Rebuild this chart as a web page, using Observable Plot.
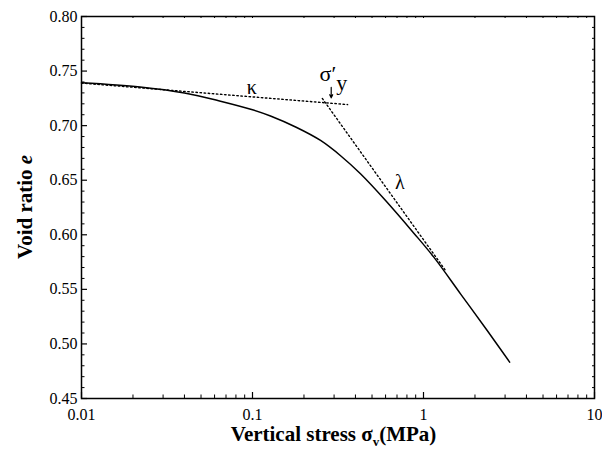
<!DOCTYPE html>
<html><head><meta charset="utf-8">
<script src="https://cdn.jsdelivr.net/npm/d3@7"></script>
<script src="https://cdn.jsdelivr.net/npm/@observablehq/plot@0.6"></script>
<style>
body{margin:0;background:#fff}
svg text{font-family:"Liberation Serif", serif !important;}
</style>
</head><body><div id="chart"></div>
<script>
// ---- data ----
const curveSigma = [0.01, 0.022, 0.04, 0.065, 0.1, 0.1274, 0.18, 0.25, 0.33, 0.428, 0.6, 0.878, 1.149, 1.646, 2.358, 3.19];
const curveE     = [0.7393, 0.7355, 0.7300, 0.7224, 0.7145, 0.7088, 0.6985, 0.6864, 0.6720, 0.6559, 0.6314, 0.6015, 0.5795, 0.5459, 0.5123, 0.4833];
const kappaSigma = [0.01, 0.36];
const kappaE     = [0.739, 0.7193];
const lambdaSigma = [0.256, 1.345];
const lambdaE     = [0.7249, 0.5673];
const yieldSigma = [0.2886];
const yieldArrowE = [0.735, 0.7255];
const xTickValues = [0.01, 0.1, 1, 10];
const xTickLabels = ["0.01", "0.1", "1", "10"];
const yTickValues = [0.45, 0.50, 0.55, 0.60, 0.65, 0.70, 0.75, 0.80];
const annotations = [
  {s: 0.0992, e: 0.7352, t: "κ", style: "italic", size: 20},
  {s: 0.726,  e: 0.6477, t: "λ", style: "italic", size: 20},
  {s: 0.276,  e: 0.7475, t: "σ′", style: "italic", size: 22},
  {s: 0.333,  e: 0.7395, t: "y", style: "normal", size: 22}
];

// ---- layout ----
const W = 602, H = 454, mL = 81, mR = 8, mT = 16, mB = 56;
const pw = W - mL - mR, ph = H - mT - mB;
const font = "Liberation Serif";

const xMinor = [];
[0.01, 0.1, 1].forEach(d => { for (let k = 2; k <= 9; k++) xMinor.push(d * k); });
const yMinor = d3.range(45, 81, 1).filter(v => v % 5 !== 0).map(v => v / 100);

const curve = curveSigma.map((s, i) => ({s, e: curveE[i]}));
const kappa = kappaSigma.map((s, i) => ({s, e: kappaE[i]}));
const lambda = lambdaSigma.map((s, i) => ({s, e: lambdaE[i]}));
const arrow = [{x: yieldSigma[0], y1: yieldArrowE[0], y2: yieldArrowE[1]}];

const chart = Plot.plot({
  width: W, height: H,
  marginLeft: mL, marginRight: mR, marginTop: mT, marginBottom: mB,
  x: {type: "log", domain: [0.01, 10], axis: null},
  y: {domain: [0.45, 0.80], axis: null},
  style: {fontFamily: font, background: "white", color: "black"},
  marks: [
    Plot.axisX(xTickValues, {anchor: "bottom", tickSize: 0, tickPadding: 10, fontSize: 16, fontFamily: font,
      tickFormat: d => xTickLabels[xTickValues.indexOf(d)], label: null}),
    Plot.axisY(yTickValues, {anchor: "left", tickSize: 0, tickPadding: 4, fontSize: 16, fontFamily: font,
      tickFormat: d3.format(".2f"), label: null}),
    // inward ticks, bottom and left
    Plot.tickX(xTickValues, {x: d => d, insetTop: ph - 6, stroke: "black", strokeWidth: 1.2}),
    Plot.tickX(xMinor, {x: d => d, insetTop: ph - 3.5, stroke: "black", strokeWidth: 1}),
    Plot.tickY(yTickValues, {y: d => d, insetRight: pw - 6, stroke: "black", strokeWidth: 1.2}),
    Plot.tickY(yMinor, {y: d => d, insetRight: pw - 3.5, stroke: "black", strokeWidth: 1}),
    // tiny ticks, top and right
    Plot.tickX(xTickValues.concat(xMinor), {x: d => d, insetBottom: ph - 2, stroke: "black", strokeWidth: 1}),
    Plot.tickY(yTickValues.concat(yMinor), {y: d => d, insetLeft: pw - 2, stroke: "black", strokeWidth: 1}),
    Plot.line(kappa, {x: "s", y: "e", stroke: "black", strokeWidth: 1.4, strokeDasharray: "1.5,2.6"}),
    Plot.line(lambda, {x: "s", y: "e", stroke: "black", strokeWidth: 1.4, strokeDasharray: "1.5,2.6"}),
    Plot.line(curve, {x: "s", y: "e", curve: "catmull-rom", stroke: "black", strokeWidth: 1.5}),
    Plot.arrow(arrow, {x1: "x", x2: "x", y1: "y1", y2: "y2", stroke: "black", strokeWidth: 1.2, headLength: 6, headAngle: 50}),
    Plot.text(annotations, {x: "s", y: "e", text: "t", fontStyle: d => d.style, fontSize: d => d.size, fontFamily: font, fill: "black"}),
    Plot.frame({stroke: "black", strokeWidth: 1.5})
  ]
});

document.getElementById("chart").appendChild(chart);

// axis titles with mixed styles
const svg = d3.select(chart);
const xt = svg.append("text")
  .attr("x", mL + pw / 2 - 4).attr("y", 441)
  .attr("text-anchor", "middle")
  .attr("font-family", font).attr("font-size", 21).attr("font-weight", "bold").attr("fill", "black");
xt.append("tspan").text("Vertical stress σ");
xt.append("tspan").attr("font-size", 13).attr("dy", 5).text("v");
xt.append("tspan").attr("dy", -5).text("(MPa)");

const yt = svg.append("text")
  .attr("transform", `translate(32,${mT + ph / 2}) rotate(-90)`)
  .attr("text-anchor", "middle")
  .attr("font-family", font).attr("font-size", 21).attr("font-weight", "bold").attr("fill", "black");
yt.append("tspan").text("Void ratio ");
yt.append("tspan").attr("font-style", "italic").text("e");
</script>
</body></html>
